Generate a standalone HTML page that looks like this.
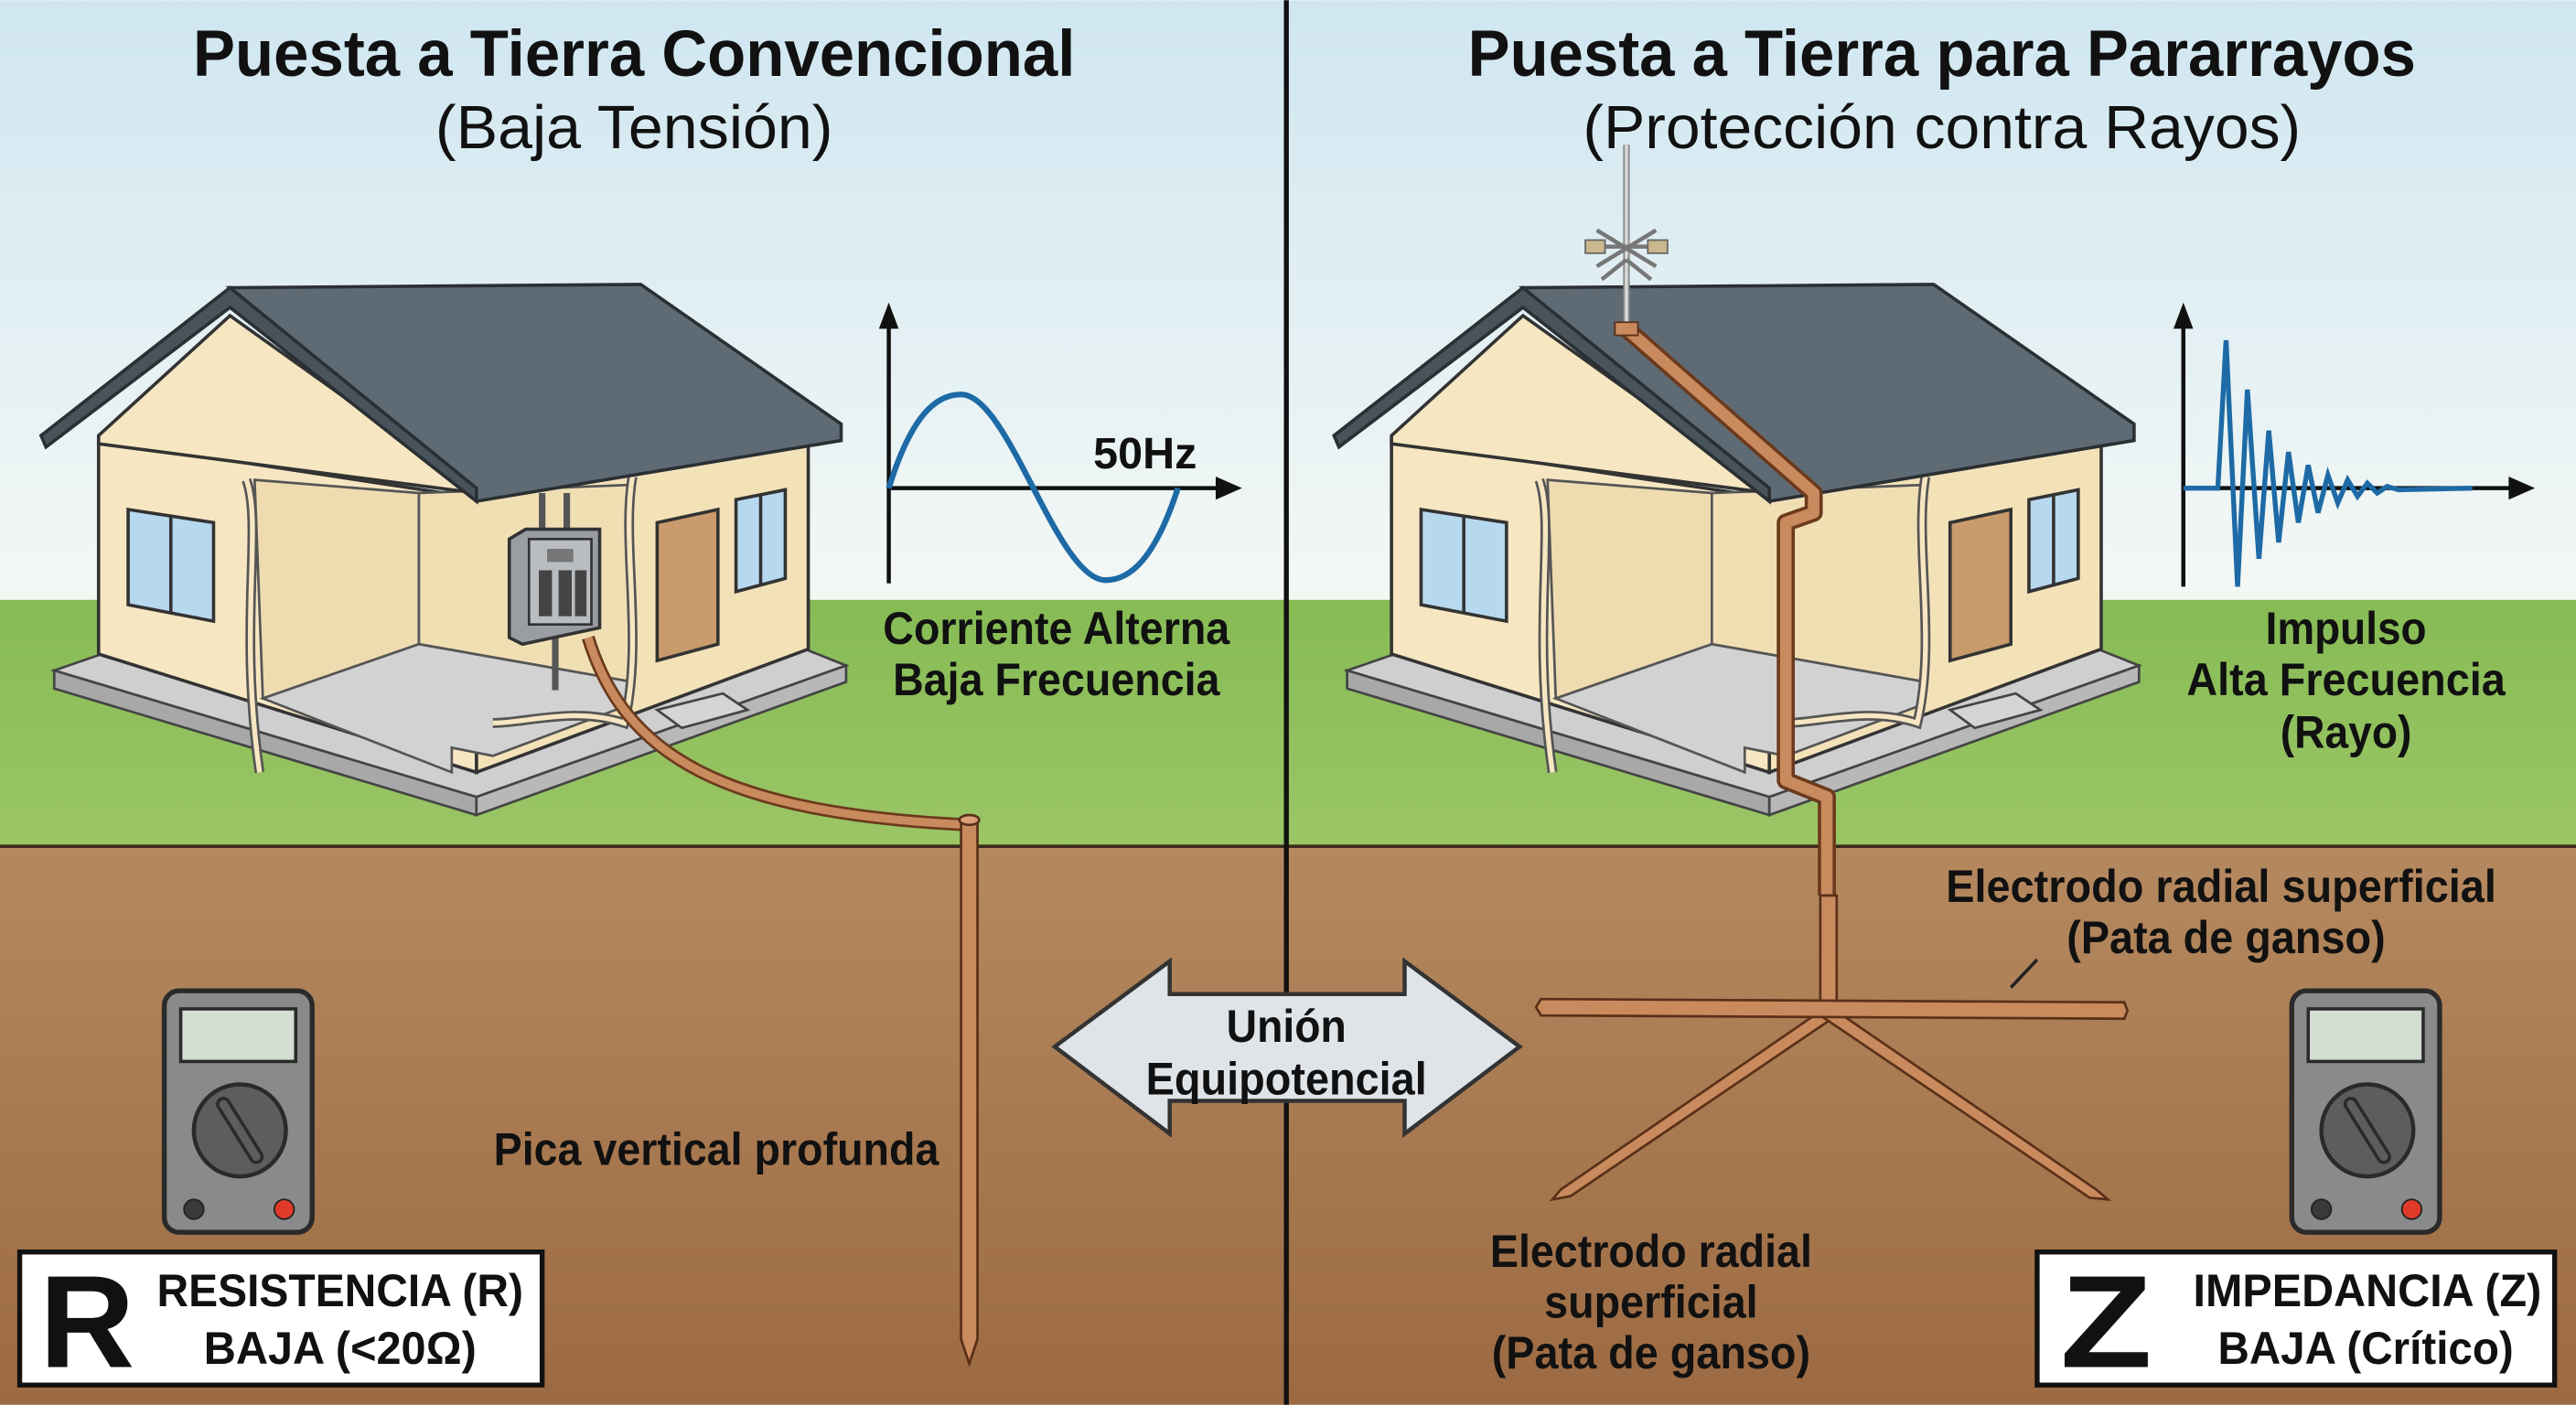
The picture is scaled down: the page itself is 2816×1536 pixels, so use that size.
<!DOCTYPE html>
<html><head><meta charset="utf-8"><style>
html,body{margin:0;padding:0;width:2816px;height:1536px;overflow:hidden;background:#fff}
svg{display:block}
text{font-family:"Liberation Sans Narrow","Liberation Sans",sans-serif;font-weight:bold;fill:#111}
.t{font-family:"Liberation Sans",sans-serif}
</style></head><body>
<svg width="2816" height="1536" viewBox="0 0 1568 855" xmlns="http://www.w3.org/2000/svg">
<defs>
<linearGradient id="sky" x1="0" y1="0" x2="0" y2="1"><stop offset="0" stop-color="#cfe6f1"/><stop offset="1" stop-color="#f4f8f5"/></linearGradient>
<linearGradient id="soil" x1="0" y1="0" x2="0" y2="1"><stop offset="0" stop-color="#b5895f"/><stop offset="1" stop-color="#9c6a42"/></linearGradient>
<linearGradient id="grass" x1="0" y1="0" x2="0" y2="1"><stop offset="0" stop-color="#86bb54"/><stop offset="1" stop-color="#9bc666"/></linearGradient>
<g id="house">
  <polygon points="33,408 62,398 290,470 490,395 515,405 290,485" fill="#cfcfcf" stroke="#444" stroke-width="1.5"/>
  <polygon points="33,408 290,485 290,496 33,419" fill="#a8a8a8" stroke="#444" stroke-width="1.5"/>
  <polygon points="290,485 515,405 515,415 290,496" fill="#b8b8b8" stroke="#444" stroke-width="1.5"/>
  <polygon points="290,300 492,262 492,395 290,470" fill="#f3e2b8" stroke="#333" stroke-width="2"/>
  <polygon points="60,268 290,303 290,470 60,398" fill="#f6e7c2" stroke="#333" stroke-width="2"/>
  <polygon points="155,292 255,300 255,392 160,425" fill="#eedcb0" stroke="#555" stroke-width="1.5"/>
  <polygon points="255,300 385,295 385,415 255,392" fill="#f1dfb4" stroke="#555" stroke-width="1.5"/>
  <polygon points="160,425 255,392 385,415 380,430 300,460 275,455 275,470" fill="#d2d2d2" stroke="#555" stroke-width="1.5"/>
  <path d="M150,292 C160,320 145,380 158,470" stroke="#555" stroke-width="6" fill="none"/>
  <path d="M150,292 C160,320 145,380 158,470" stroke="#f6e7c2" stroke-width="3" fill="none"/>
  <path d="M385,290 C378,330 392,390 380,440 C350,430 320,440 300,440" stroke="#555" stroke-width="6" fill="none"/>
  <path d="M385,290 C378,330 392,390 380,440 C350,430 320,440 300,440" stroke="#f6e7c2" stroke-width="3" fill="none"/>
  <polygon points="78,310 130,318 130,378 78,368" fill="#b7d9ef" stroke="#333" stroke-width="2"/>
  <line x1="104" y1="314" x2="104" y2="373" stroke="#333" stroke-width="2"/>
  <polygon points="400,318 437,310 437,392 400,402" fill="#c89a6c" stroke="#333" stroke-width="2"/>
  <polygon points="448,304 478,298 478,352 448,360" fill="#b7d9ef" stroke="#333" stroke-width="2"/>
  <line x1="463" y1="301" x2="463" y2="356" stroke="#333" stroke-width="2"/>
  <polygon points="400,432 440,422 455,432 415,443" fill="#d5d5d5" stroke="#444" stroke-width="1.5"/>
  <polygon points="60,265 140,192 280,292 290,300 60,270" fill="#f6e7c2" stroke="#333" stroke-width="2"/>
  <polygon points="140,175 390,173 512,258 512,268 290,305 278,292" fill="#5f6b74" stroke="#2a2f33" stroke-width="2"/>
  <polygon points="25,265 140,175 290,297 290,305 140,187 28,272" fill="#48535b" stroke="#2a2f33" stroke-width="2"/>
</g>
</defs>
<rect x="0" y="0" width="1568" height="365" fill="url(#sky)"/>
<rect x="0" y="365" width="1568" height="150" fill="url(#grass)"/>
<rect x="0" y="515" width="1568" height="340" fill="url(#soil)"/>
<line x1="0" y1="515" x2="1568" y2="515" stroke="#3a2a1c" stroke-width="2"/>
<line x1="783" y1="0" x2="783" y2="855" stroke="#111" stroke-width="3"/>

<text class="t" x="386" y="46" font-size="40" text-anchor="middle" textLength="537" lengthAdjust="spacingAndGlyphs">Puesta a Tierra Convencional</text>
<text class="t" x="386" y="90" font-size="37" text-anchor="middle" style="font-weight:normal" textLength="242" lengthAdjust="spacingAndGlyphs">(Baja Tensión)</text>
<text class="t" x="1182" y="46" font-size="40" text-anchor="middle" textLength="577" lengthAdjust="spacingAndGlyphs">Puesta a Tierra para Pararrayos</text>
<text class="t" x="1182" y="90" font-size="37" text-anchor="middle" style="font-weight:normal" textLength="437" lengthAdjust="spacingAndGlyphs">(Protección contra Rayos)</text>

<use href="#house"/>
<use href="#house" transform="translate(787,0)"/>

<!-- panel -->
<line x1="330" y1="300" x2="330" y2="322" stroke="#555" stroke-width="4"/>
<line x1="345" y1="300" x2="345" y2="322" stroke="#555" stroke-width="4"/>
<line x1="338" y1="388" x2="338" y2="420" stroke="#555" stroke-width="4"/>
<polygon points="310,328 320,322 365,322 365,382 318,392 310,388" fill="#9a9ea2" stroke="#333" stroke-width="2"/>
<rect x="322" y="328" width="38" height="52" fill="#b9bdc1" stroke="#333" stroke-width="1.5"/>
<rect x="333" y="334" width="16" height="8" fill="#777"/>
<g fill="#444"><rect x="328" y="347" width="8" height="28"/><rect x="340" y="347" width="8" height="28"/><rect x="350" y="347" width="7" height="28"/></g>
<!-- cable -->
<path d="M358,388 C380,460 440,495 590,502" stroke="#6b3a1d" stroke-width="8" fill="none"/>
<path d="M358,388 C380,460 440,495 590,502" stroke="#c98a5e" stroke-width="5" fill="none"/>
<!-- rod left -->
<polygon points="585,500 595,500 595,815 590,830 585,815" fill="#c98a5e" stroke="#5a3018" stroke-width="1.5"/>
<ellipse cx="590" cy="499" rx="6" ry="3" fill="#d9a07a" stroke="#5a3018" stroke-width="1.5"/>

<!-- sine graph -->
<line x1="541" y1="355" x2="541" y2="195" stroke="#111" stroke-width="2.5"/>
<polygon points="535,200 541,184 547,200" fill="#111"/>
<line x1="541" y1="297" x2="745" y2="297" stroke="#111" stroke-width="2.5"/>
<polygon points="740,290 756,297 740,304" fill="#111"/>
<path d="M541,297 C555,252 570,240 585,240 C600,240 615,270 629,297 C643,324 658,353 673,353 C688,353 703,340 717,297" stroke="#1d6aa6" stroke-width="3.5" fill="none"/>
<text x="697" y="285" font-size="27" text-anchor="middle" textLength="63" lengthAdjust="spacingAndGlyphs">50Hz</text>
<text x="643" y="392" font-size="28" text-anchor="middle" textLength="211" lengthAdjust="spacingAndGlyphs">Corriente Alterna</text>
<text x="643" y="423" font-size="28" text-anchor="middle" textLength="199" lengthAdjust="spacingAndGlyphs">Baja Frecuencia</text>

<!-- impulse graph -->
<line x1="1329" y1="357" x2="1329" y2="195" stroke="#111" stroke-width="2.5"/>
<polygon points="1323,200 1329,184 1335,200" fill="#111"/>
<line x1="1329" y1="297" x2="1532" y2="297" stroke="#111" stroke-width="2.5"/>
<polygon points="1527,290 1543,297 1527,304" fill="#111"/>
<polyline points="1329,297 1350,297 1355,207 1362,357 1368,237 1375,340 1381,262 1387,330 1393,275 1399,318 1405,283 1411,312 1417,289 1423,306 1429,292 1435,302 1441,294 1447,300 1453,296 1460,298 1505,297" stroke="#1d6aa6" stroke-width="3" fill="none"/>
<text x="1428" y="392" font-size="28" text-anchor="middle" textLength="98" lengthAdjust="spacingAndGlyphs">Impulso</text>
<text x="1428" y="423" font-size="28" text-anchor="middle" textLength="194" lengthAdjust="spacingAndGlyphs">Alta Frecuencia</text>
<text x="1428" y="455" font-size="28" text-anchor="middle" textLength="80" lengthAdjust="spacingAndGlyphs">(Rayo)</text>

<!-- lightning rod -->
<line x1="990" y1="88" x2="990" y2="200" stroke="#888" stroke-width="4"/>
<line x1="990" y1="88" x2="990" y2="200" stroke="#d8d8d8" stroke-width="2"/>
<g stroke="#777" stroke-width="2.5"><line x1="965" y1="150" x2="1015" y2="150"/><line x1="972" y1="140" x2="1008" y2="162"/><line x1="972" y1="162" x2="1008" y2="140"/><line x1="975" y1="170" x2="990" y2="158"/><line x1="1005" y1="170" x2="990" y2="158"/></g>
<rect x="965" y="146" width="12" height="8" fill="#c9b78e" stroke="#666"/>
<rect x="1003" y="146" width="12" height="8" fill="#c9b78e" stroke="#666"/>
<!-- down conductor -->
<path d="M990,200 L1104,300 L1104,312 L1087,318 L1087,475 L1112,485 L1112,545" stroke="#6b3a1d" stroke-width="11" fill="none" stroke-linejoin="round"/>
<path d="M990,200 L1104,300 L1104,312 L1087,318 L1087,475 L1112,485 L1112,545" stroke="#c98a5e" stroke-width="7" fill="none" stroke-linejoin="round"/>
<rect x="983" y="196" width="14" height="8" fill="#c98a5e" stroke="#5a3018"/>
<!-- electrodes -->
<polygon points="1108,545 1118,545 1118,610 1108,610" fill="#c98a5e" stroke="#5a3018" stroke-width="1.5"/>
<polygon points="1113,612 950,724 945,730 956,728 1118,618" fill="#c98a5e" stroke="#5a3018" stroke-width="1.5"/>
<polygon points="1113,612 1276,724 1283,730 1272,729 1108,618" fill="#c98a5e" stroke="#5a3018" stroke-width="1.5"/>
<polygon points="938,608 1293,610 1295,615 1293,620 938,618 935,613" fill="#c98a5e" stroke="#5a3018" stroke-width="1.5"/>
<line x1="1224" y1="601" x2="1240" y2="584" stroke="#222" stroke-width="2"/>
<text x="1352" y="549" font-size="28" text-anchor="middle" textLength="335" lengthAdjust="spacingAndGlyphs">Electrodo radial superficial</text>
<text x="1355" y="580" font-size="28" text-anchor="middle" textLength="194" lengthAdjust="spacingAndGlyphs">(Pata de ganso)</text>
<text x="1005" y="771" font-size="28" text-anchor="middle" textLength="196" lengthAdjust="spacingAndGlyphs">Electrodo radial</text>
<text x="1005" y="802" font-size="28" text-anchor="middle" textLength="130" lengthAdjust="spacingAndGlyphs">superficial</text>
<text x="1005" y="833" font-size="28" text-anchor="middle" textLength="194" lengthAdjust="spacingAndGlyphs">(Pata de ganso)</text>

<text x="436" y="709" font-size="28" text-anchor="middle" textLength="271" lengthAdjust="spacingAndGlyphs">Pica vertical profunda</text>

<!-- double arrow -->
<polygon points="642,637 712,585 712,605 855,605 855,585 925,637 855,690 855,670 712,670 712,690" fill="#dfe4e9" stroke="#333" stroke-width="2.5"/>
<text x="783" y="634" font-size="28" text-anchor="middle" textLength="73" lengthAdjust="spacingAndGlyphs">Unión</text>
<text x="783" y="666" font-size="28" text-anchor="middle" textLength="171" lengthAdjust="spacingAndGlyphs">Equipotencial</text>

<!-- multimeters -->
<g id="mm">
<rect x="100" y="603" width="90" height="147" rx="9" fill="#888b89" stroke="#2a2a2a" stroke-width="3"/>
<rect x="110" y="614" width="70" height="32" fill="#d4ddd2" stroke="#2a2a2a" stroke-width="2"/>
<circle cx="146" cy="688" r="28" fill="#5c5e5e" stroke="#2a2a2a" stroke-width="2.5"/>
<line x1="136" y1="672" x2="156" y2="704" stroke="#2a2a2a" stroke-width="9" stroke-linecap="round"/>
<line x1="136" y1="672" x2="156" y2="704" stroke="#5c5e5e" stroke-width="5" stroke-linecap="round"/>
<circle cx="118" cy="736" r="6" fill="#3a3a3a" stroke="#222"/>
<circle cx="173" cy="736" r="6" fill="#e23a2a" stroke="#222"/>
</g>
<use href="#mm" transform="translate(1295,0)"/>

<!-- boxes -->
<rect x="12" y="762" width="318" height="81" fill="#fff" stroke="#111" stroke-width="3"/>
<text class="t" x="24" y="832" font-size="80" textLength="58" lengthAdjust="spacingAndGlyphs">R</text>
<text x="207" y="795" font-size="28" text-anchor="middle" textLength="223" lengthAdjust="spacingAndGlyphs">RESISTENCIA (R)</text>
<text x="207" y="830" font-size="28" text-anchor="middle" textLength="166" lengthAdjust="spacingAndGlyphs">BAJA (&lt;20Ω)</text>
<rect x="1240" y="762" width="315" height="81" fill="#fff" stroke="#111" stroke-width="3"/>
<text class="t" x="1254" y="832" font-size="80" textLength="56" lengthAdjust="spacingAndGlyphs">Z</text>
<text x="1441" y="795" font-size="28" text-anchor="middle" textLength="212" lengthAdjust="spacingAndGlyphs">IMPEDANCIA (Z)</text>
<text x="1440" y="830" font-size="28" text-anchor="middle" textLength="180" lengthAdjust="spacingAndGlyphs">BAJA (Crítico)</text>
</svg>
</body></html>
